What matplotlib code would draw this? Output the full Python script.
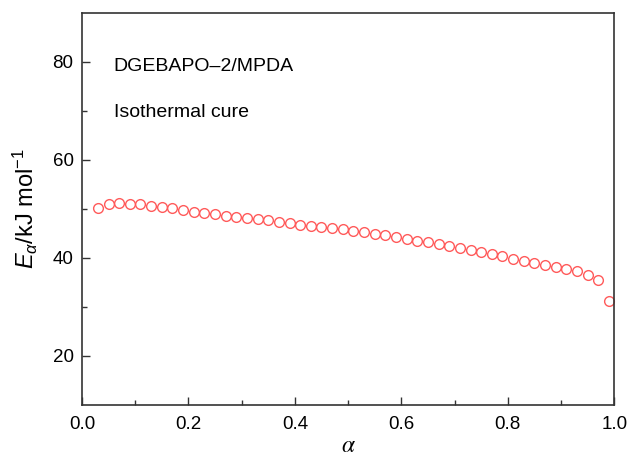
import matplotlib
matplotlib.use('Agg')
import matplotlib.pyplot as plt
import numpy as np

plt.rcParams['font.family'] = ['Liberation Sans', 'DejaVu Sans']
plt.rcParams['mathtext.fontset'] = 'custom'
plt.rcParams['mathtext.rm'] = 'Liberation Sans'
plt.rcParams['mathtext.it'] = 'Liberation Sans:italic'

# conversion degree and activation energy (kJ/mol)
alpha = [0.03, 0.05, 0.07, 0.09, 0.11, 0.13, 0.15, 0.17, 0.19, 0.21,
         0.23, 0.25, 0.27, 0.29, 0.31, 0.33, 0.35, 0.37, 0.39, 0.41,
         0.43, 0.45, 0.47, 0.49, 0.51, 0.53, 0.55, 0.57, 0.59, 0.61,
         0.63, 0.65, 0.67, 0.69, 0.71, 0.73, 0.75, 0.77, 0.79, 0.81,
         0.83, 0.85, 0.87, 0.89, 0.91, 0.93, 0.95, 0.97, 0.99]
e_alpha = [50.1, 51.0, 51.2, 51.0, 50.9, 50.6, 50.4, 50.1, 49.7, 49.4,
           49.2, 49.0, 48.6, 48.4, 48.2, 47.9, 47.7, 47.4, 47.1, 46.8,
           46.6, 46.3, 46.1, 45.9, 45.5, 45.2, 44.8, 44.6, 44.2, 43.9,
           43.5, 43.3, 42.9, 42.4, 42.0, 41.6, 41.2, 40.8, 40.3, 39.8,
           39.4, 39.0, 38.6, 38.2, 37.8, 37.3, 36.4, 35.5, 31.2]

fig = plt.figure(figsize=(6.3, 4.58), dpi=100)
ax = fig.add_axes([0.130, 0.116, 0.845, 0.856])

ax.plot(alpha, e_alpha, 'o', mfc='none', mec='#ff5a5a', mew=1.0, ms=7.0,
        clip_on=False)

ax.set_xlim(0, 1.0)
ax.set_ylim(10, 90)
ax.set_xticks(np.arange(0, 1.01, 0.2))
ax.set_xticks(np.arange(0.1, 1.0, 0.2), minor=True)
ax.set_yticks([20, 40, 60, 80])
ax.set_yticks([30, 50, 70], minor=True)
ax.set_xticklabels(['0.0', '0.2', '0.4', '0.6', '0.8', '1.0'])

ax.tick_params(which='both', direction='in', labelsize=13.5, width=1.0,
               color='#333333')
ax.tick_params(which='major', length=6)
ax.tick_params(which='minor', length=3.5)
ax.tick_params(axis='x', pad=8)
ax.tick_params(axis='y', pad=6)
for sp in ax.spines.values():
    sp.set_linewidth(1.2)
    sp.set_color('#333333')

ax.set_xlabel(r'$\alpha$', fontsize=17, math_fontfamily='stix', labelpad=1.5)
ax.set_ylabel(r'$E_{\alpha}$/kJ mol$^{-1}$', fontsize=17, labelpad=9)

ax.text(0.06, 0.862, 'DGEBAPO\u20132/MPDA', transform=ax.transAxes,
        fontsize=14, va='center', ha='left')
ax.text(0.06, 0.745, 'Isothermal cure', transform=ax.transAxes,
        fontsize=14, va='center', ha='left')

fig.savefig('out.png', dpi=100)
